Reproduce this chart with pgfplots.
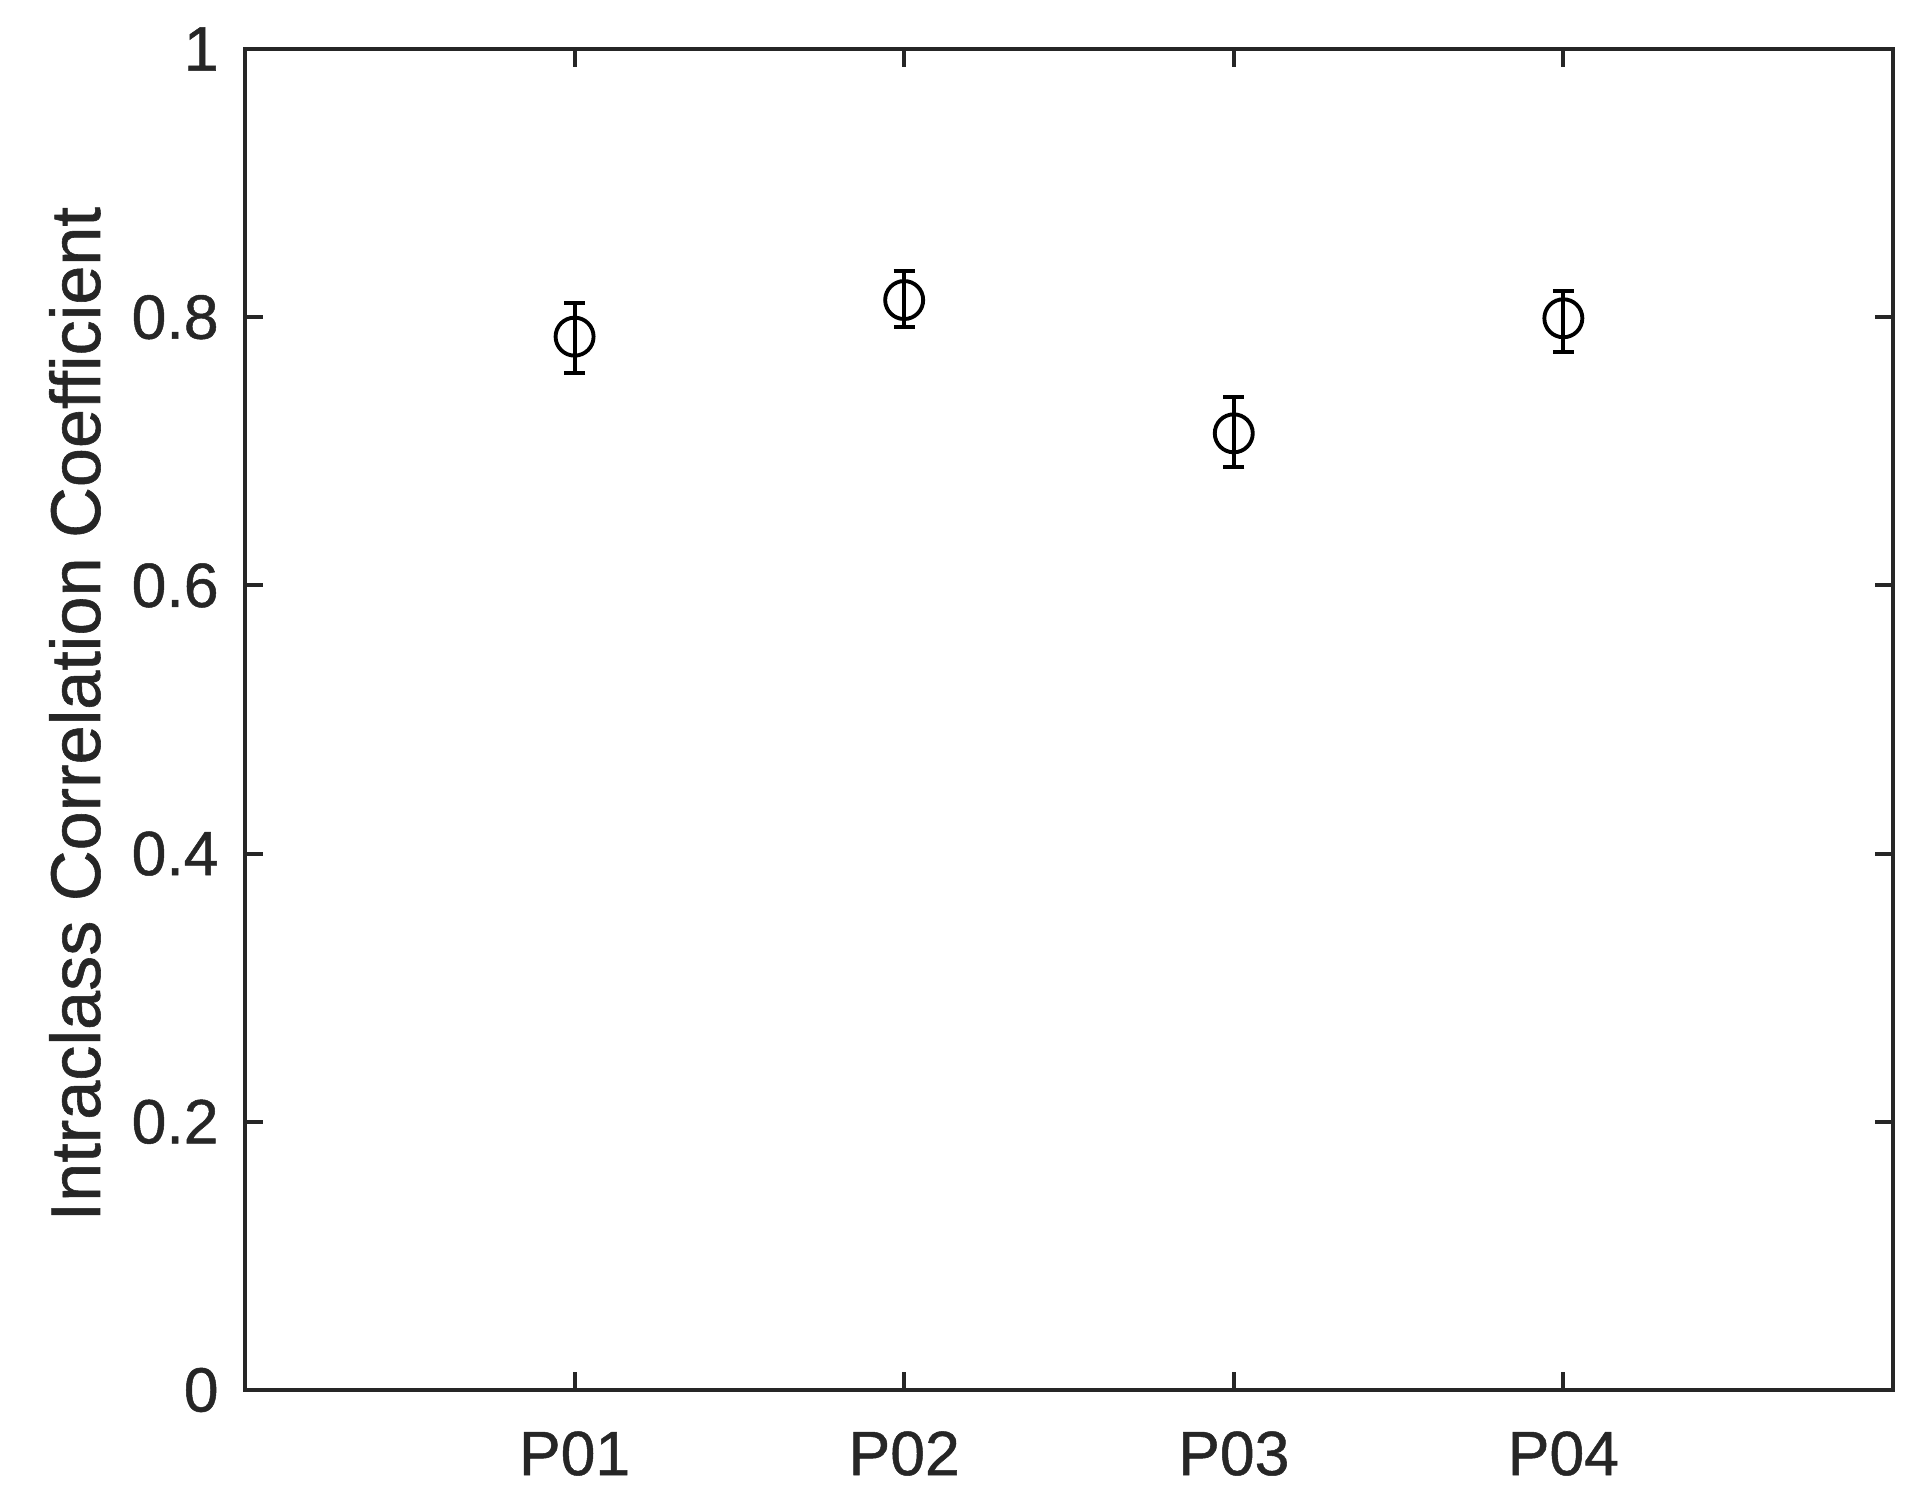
\documentclass[border=0pt]{standalone}
\usepackage{fontspec}
\setmainfont{Liberation Sans}[FakeBold=0.8]
\newfontfamily\hv{Liberation Sans}[FakeBold=0.8]
\usepackage{pgfplots}
\pgfplotsset{compat=1.18}
\definecolor{axgray}{RGB}{38,38,38}

\begin{document}
\begin{tikzpicture}[x=0.1mm,y=0.1mm]
\begin{axis}[
  at={(0,0)}, anchor=south west,
  scale only axis,
  width=164.8mm, height=134.1mm,
  xmin=0, xmax=5, ymin=0, ymax=1,
  xtick={1,2,3,4},
  xticklabels={P01,P02,P03,P04},
  ytick={0,0.2,0.4,0.6,0.8,1},
  yticklabels={0,0.2,0.4,0.6,0.8,1},
  tick align=inside,
  major tick length=1.8mm,
  axis line style={axgray, line width=1.15pt},
  every tick/.style={axgray, line width=1.15pt},
  tick label style={font=\hv\fontsize{17.8}{20}\selectfont, text=axgray},
  yticklabel style={xshift=-1.4mm},
  xticklabel style={yshift=-2.9mm},
  ylabel={Intraclass Correlation Coefficient},
  ylabel style={at={(axis description cs:-0.088,0.504)}, anchor=base,
    font=\hv\fontsize{20}{22}\selectfont, text=axgray},
  clip=false,
]
  \addplot[black, line width=1.1pt, only marks,
    mark=o, mark size=1.9mm,
    mark options={line width=1.1pt},
    error bars/.cd, y dir=both, y explicit,
    error bar style={line width=1.1pt},
    error mark options={rotate=90, mark size=1.05mm, line width=1.1pt}]
  table[x=x, y=y, y error plus=ep, y error minus=em] {
    x y      ep     em
    1 0.7855 0.0249 0.0273
    2 0.8128 0.0217 0.0199
    3 0.7134 0.0273 0.0249
    4 0.7992 0.0206 0.0254
  };
\end{axis}
\path (-245,-121) rectangle (1686,1390);
\end{tikzpicture}
\end{document}
